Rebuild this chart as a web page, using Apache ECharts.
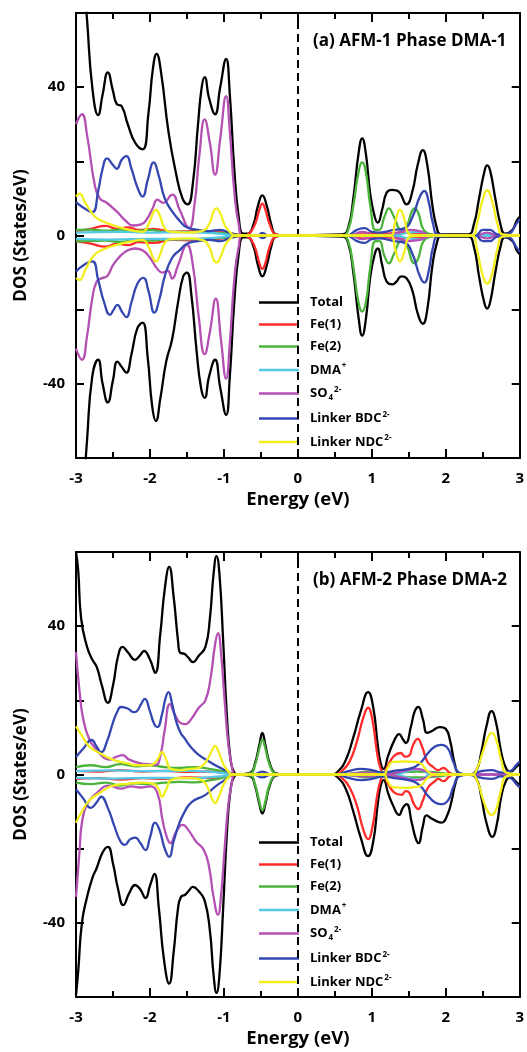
<!DOCTYPE html>
<html>
<head>
<meta charset="utf-8">
<script src="https://cdn.jsdelivr.net/npm/echarts@6/dist/echarts.min.js"></script>
<style>
  html, body { margin: 0; padding: 0; background: #fff; }
  #chart { width: 527px; height: 1052px; }
</style>
</head>
<body>
<div id="chart"></div>
<script>
// 图例名称 / 颜色
const names = ['Total', 'Fe(1)', 'Fe(2)', 'DMA+', 'SO42-', 'Linker BDC2-', 'Linker NDC2-']
const colors = ['#000000', '#ff2b2b', '#4cb43c', '#55c8e6', '#b450b4', '#3446b0', '#f2ee1e']
const titles = ['(a) AFM-1 Phase DMA-1', '(b) AFM-2 Phase DMA-2']

// ---------- (a) AFM-1, [E (eV), DOS] ----------
const totUpA = [[-3,100],[-2.92,75],[-2.85,58],[-2.78,40],[-2.7,32.5],[-2.64,38],[-2.57,44],[-2.5,39],[-2.45,35.5],[-2.38,34.8],[-2.3,30],[-2.2,25],[-2.1,23.2],[-2.02,33],[-1.96,45],[-1.91,49],[-1.85,44],[-1.75,28],[-1.65,17],[-1.56,10],[-1.49,8.4],[-1.42,14],[-1.35,30],[-1.3,40],[-1.26,42.7],[-1.2,37],[-1.12,32.7],[-1.05,40],[-0.97,47.6],[-0.92,38],[-0.86,18],[-0.8,5],[-0.74,0.5],[-0.68,0.5],[-0.6,3],[-0.54,8],[-0.48,10.8],[-0.42,8],[-0.36,3],[-0.3,0.3],[-0.2,0],[0.6,0.3],[0.68,2],[0.75,10],[0.82,22],[0.87,26.2],[0.92,22],[0.98,11],[1.04,5],[1.08,3.5],[1.14,7],[1.2,11.5],[1.27,12.3],[1.33,12.2],[1.38,11.5],[1.47,8.4],[1.55,12],[1.62,19],[1.69,23],[1.75,19],[1.82,8],[1.88,2],[1.93,0.3],[2.3,0.3],[2.38,3],[2.45,10],[2.52,17],[2.56,18.9],[2.6,17.5],[2.67,10],[2.74,3],[2.8,0.5],[2.9,1.5],[2.96,4],[3,5]]
const totDnA = [[-3,-100],[-2.92,-75],[-2.85,-55],[-2.78,-38],[-2.7,-33.5],[-2.64,-40],[-2.57,-45],[-2.5,-39],[-2.44,-34],[-2.38,-35.5],[-2.32,-37],[-2.25,-32],[-2.17,-25],[-2.1,-23.5],[-2.03,-33],[-1.97,-46],[-1.92,-50],[-1.86,-44],[-1.78,-34],[-1.7,-28],[-1.62,-18],[-1.55,-11],[-1.5,-10],[-1.44,-16],[-1.37,-31],[-1.31,-41],[-1.26,-43.8],[-1.2,-38],[-1.12,-33.5],[-1.05,-41],[-0.97,-48.4],[-0.92,-38],[-0.86,-18],[-0.8,-5],[-0.74,-0.5],[-0.68,-0.5],[-0.6,-3],[-0.54,-8],[-0.48,-11],[-0.42,-8],[-0.36,-3],[-0.3,-0.3],[-0.2,0],[0.6,-0.3],[0.68,-2],[0.75,-10],[0.82,-22],[0.87,-27],[0.92,-22.5],[0.98,-11],[1.04,-5],[1.08,-3.5],[1.14,-8],[1.2,-12.4],[1.28,-13.2],[1.33,-12.5],[1.4,-11],[1.47,-11.5],[1.55,-15],[1.62,-21],[1.69,-23.8],[1.75,-20],[1.82,-8],[1.88,-2],[1.93,-0.3],[2.3,-0.3],[2.38,-3],[2.45,-11],[2.52,-18],[2.56,-19.7],[2.6,-18],[2.67,-10],[2.74,-3],[2.8,-0.5],[2.9,-1.5],[2.96,-4],[3,-5]]
const fe1UpA = [[-3,1.2],[-2.8,1.8],[-2.6,2.6],[-2.45,1.8],[-2.3,2.2],[-2.15,1.5],[-1.95,1.8],[-1.7,1],[-1.4,1.2],[-1.1,1],[-0.85,0.4],[-0.74,0],[-0.66,0.5],[-0.58,3],[-0.52,7],[-0.48,8.6],[-0.44,7],[-0.38,3],[-0.3,0.3],[-0.2,0],[0.7,0],[0.87,0.8],[1.1,0.3],[1.4,0.8],[1.7,0.6],[1.9,0],[3,0]]
const fe1DnA = [[-3,-1.5],[-2.8,-2.2],[-2.6,-3],[-2.45,-2.2],[-2.3,-2.6],[-2.15,-1.8],[-1.95,-2],[-1.7,-1.2],[-1.4,-1.3],[-1.1,-1],[-0.85,-0.4],[-0.74,0],[-0.66,-0.5],[-0.58,-3.2],[-0.52,-7.5],[-0.48,-9],[-0.44,-7.5],[-0.38,-3],[-0.3,-0.3],[-0.2,0],[0.7,0],[0.87,-0.8],[1.1,-0.3],[1.4,-0.8],[1.7,-0.6],[1.9,0],[3,0]]
const fe2UpA = [[-3,1.5],[-2.8,1.6],[-2.6,1.3],[-2.4,1.6],[-2.2,1.2],[-2,1.5],[-1.8,1],[-1.5,1],[-1.2,0.8],[-0.9,0.5],[-0.75,0],[0.6,0],[0.68,1.5],[0.75,8],[0.82,17],[0.87,19.7],[0.92,17],[0.98,8],[1.05,1.5],[1.1,1.5],[1.17,5],[1.23,7.3],[1.3,5],[1.4,1.5],[1.48,3],[1.54,6.5],[1.58,7.3],[1.63,6],[1.7,1.5],[1.8,0.3],[1.9,0],[3,0]]
const fe2DnA = [[-3,-1.6],[-2.8,-1.5],[-2.6,-1.4],[-2.4,-1.7],[-2.2,-1.3],[-2,-1.4],[-1.8,-1.1],[-1.5,-1],[-1.2,-0.8],[-0.9,-0.5],[-0.75,0],[0.6,0],[0.68,-1.5],[0.75,-8.5],[0.82,-18],[0.87,-20.5],[0.92,-18],[0.98,-8.5],[1.05,-1.5],[1.1,-1.5],[1.17,-5.5],[1.23,-7.5],[1.3,-5],[1.4,-1.5],[1.48,-3],[1.54,-6.8],[1.58,-7.5],[1.63,-6],[1.7,-1.5],[1.8,-0.3],[1.9,0],[3,0]]
const dmaUpA = [[-3,0.8],[-2.5,1],[-2,0.8],[-1.5,0.9],[-1.1,0.6],[-0.85,0],[1.3,0],[1.5,0.8],[1.65,1],[1.8,0],[3,0]]
const dmaDnA = [[-3,-0.9],[-2.5,-1.1],[-2,-0.9],[-1.5,-1],[-1.1,-0.6],[-0.85,0],[1.3,0],[1.5,-0.8],[1.65,-1],[1.8,0],[3,0]]
const so4UpA = [[-3,30],[-2.92,32.7],[-2.85,27],[-2.75,14],[-2.68,10],[-2.59,8.9],[-2.45,6.5],[-2.32,3.8],[-2.23,2.7],[-2.12,3],[-2.04,4.5],[-1.96,7.5],[-1.9,9.7],[-1.82,8.8],[-1.7,11],[-1.6,7],[-1.47,2],[-1.4,8],[-1.33,22],[-1.26,31.3],[-1.19,25],[-1.12,16.4],[-1.05,26],[-0.97,37.6],[-0.92,28],[-0.86,12],[-0.8,3],[-0.74,0],[0.7,0],[0.87,1],[1.05,0],[1.3,0.5],[1.5,1.5],[1.65,1.2],[1.8,0],[2.4,0],[2.56,0.8],[2.7,0],[3,0]]
const so4DnA = [[-3,-30.5],[-2.92,-33.5],[-2.85,-27],[-2.78,-17],[-2.72,-12.4],[-2.65,-11.5],[-2.58,-11],[-2.5,-8],[-2.4,-5.5],[-2.3,-4],[-2.2,-3.5],[-2.1,-4],[-2,-6],[-1.9,-9],[-1.83,-10],[-1.76,-9.5],[-1.7,-11.6],[-1.62,-8],[-1.5,-2.5],[-1.42,-8],[-1.34,-22],[-1.26,-32],[-1.19,-26],[-1.11,-17],[-1.04,-28],[-0.97,-38.6],[-0.92,-29],[-0.86,-12],[-0.8,-3],[-0.74,0],[0.7,0],[0.87,-1],[1.05,0],[1.3,-0.5],[1.5,-1.5],[1.65,-1.2],[1.8,0],[2.4,0],[2.56,-0.8],[2.7,0],[3,0]]
const bdcUpA = [[-3,9],[-2.9,7.5],[-2.78,6.3],[-2.7,12],[-2.64,18],[-2.58,20.8],[-2.5,19],[-2.45,18],[-2.38,20.5],[-2.32,21.4],[-2.25,18],[-2.17,13],[-2.1,10.5],[-2.03,15],[-1.95,19.7],[-1.88,16],[-1.8,10],[-1.7,6.5],[-1.6,4],[-1.5,2.2],[-1.35,1.5],[-1.2,1.2],[-1.05,1.5],[-0.9,0.5],[-0.75,0],[-0.55,0],[-0.48,0.7],[-0.4,0],[0.65,0],[0.8,1.5],[0.9,2],[1,1],[1.1,0.8],[1.3,1.5],[1.45,2],[1.55,5],[1.65,10.5],[1.71,12],[1.77,9],[1.83,3],[1.9,0.3],[2.4,0],[2.5,1.5],[2.6,1.5],[2.7,0.3],[2.85,0.5],[2.95,3],[3,4.5]]
const bdcDnA = [[-3,-9.7],[-2.9,-8],[-2.78,-7],[-2.7,-12],[-2.62,-18],[-2.54,-21.4],[-2.49,-20],[-2.44,-18.7],[-2.38,-20.5],[-2.32,-22],[-2.25,-18],[-2.17,-13],[-2.09,-11.4],[-2.02,-15],[-1.94,-20.8],[-1.87,-17],[-1.8,-11],[-1.7,-6],[-1.6,-4],[-1.5,-2.2],[-1.35,-1.5],[-1.2,-1.2],[-1.05,-1.5],[-0.9,-0.5],[-0.75,0],[-0.55,0],[-0.48,-0.7],[-0.4,0],[0.65,0],[0.8,-1.5],[0.9,-2],[1,-1],[1.1,-0.8],[1.3,-1.5],[1.45,-2],[1.55,-5],[1.65,-11],[1.71,-12.7],[1.77,-9.5],[1.83,-3],[1.9,-0.3],[2.4,0],[2.5,-1.5],[2.6,-1.5],[2.7,-0.3],[2.85,-0.5],[2.95,-3],[3,-4.5]]
const ndcUpA = [[-3,10.5],[-2.95,11.3],[-2.88,9],[-2.8,6.5],[-2.72,4.7],[-2.6,3.5],[-2.45,2.5],[-2.3,1.6],[-2.1,1],[-2.02,3],[-1.96,6],[-1.92,7],[-1.87,5.5],[-1.8,2],[-1.72,1],[-1.5,0.8],[-1.3,1.2],[-1.2,3],[-1.14,6.5],[-1.1,7.3],[-1.05,6],[-0.98,2.5],[-0.9,0.5],[-0.85,0],[1.25,0],[1.32,4],[1.38,7],[1.44,4.5],[1.5,0.5],[1.6,0],[2.35,0],[2.42,3],[2.49,9],[2.56,12.2],[2.63,9],[2.7,3],[2.77,0.3],[3,0]]
const ndcDnA = [[-3,-11.5],[-2.95,-12],[-2.88,-9.5],[-2.8,-6.5],[-2.72,-4.7],[-2.6,-3.5],[-2.45,-2.5],[-2.3,-1.8],[-2.1,-1.2],[-2.02,-3],[-1.96,-6],[-1.92,-7],[-1.87,-5.5],[-1.8,-2],[-1.72,-1],[-1.5,-0.8],[-1.3,-1.2],[-1.2,-3],[-1.14,-6.5],[-1.1,-7.3],[-1.05,-6],[-0.98,-2.5],[-0.9,-0.5],[-0.85,0],[1.25,0],[1.32,-4],[1.38,-7],[1.44,-4.5],[1.5,-0.5],[1.6,0],[2.35,0],[2.42,-3.5],[2.49,-10],[2.56,-13],[2.63,-10],[2.7,-3.5],[2.77,-0.3],[3,0]]

// ---------- (b) AFM-2 ----------
const totUpB = [[-3,60],[-2.97,55],[-2.93,42],[-2.85,34.4],[-2.78,31],[-2.72,29],[-2.65,24],[-2.57,19.3],[-2.5,24],[-2.43,32],[-2.37,34.4],[-2.3,33],[-2.2,30.9],[-2.14,32],[-2.08,33.3],[-2,31],[-1.93,27.4],[-1.86,38],[-1.8,50],[-1.74,56],[-1.68,48],[-1.62,36],[-1.59,32.8],[-1.54,32.6],[-1.48,31.5],[-1.42,30.3],[-1.34,32],[-1.25,34.4],[-1.19,42],[-1.14,54],[-1.1,58.9],[-1.06,54],[-1.01,36],[-0.96,16],[-0.91,4],[-0.86,0.5],[-0.8,0],[-0.64,0.5],[-0.58,3],[-0.52,8],[-0.48,11.2],[-0.44,8],[-0.38,3],[-0.3,0.3],[-0.2,0],[0.45,0],[0.55,1],[0.65,4],[0.75,10],[0.85,17],[0.95,22.2],[1.02,18],[1.08,8],[1.12,3],[1.16,1.5],[1.22,5],[1.3,9],[1.37,10.9],[1.42,9.5],[1.46,8.5],[1.53,13],[1.58,17],[1.63,18.2],[1.69,15],[1.75,11.2],[1.82,11.8],[1.92,12.8],[2,12.3],[2.06,9],[2.12,3],[2.18,0.3],[2.3,0],[2.41,1],[2.48,6],[2.55,13],[2.62,17.1],[2.68,14],[2.75,6],[2.82,1.5],[2.88,0.8],[2.95,2],[3,3]]
const totDnB = [[-3,-59.4],[-2.97,-53],[-2.92,-40],[-2.85,-33],[-2.78,-28],[-2.72,-25.2],[-2.64,-21],[-2.57,-19.5],[-2.5,-24],[-2.43,-31],[-2.36,-35.2],[-2.28,-32],[-2.2,-29.8],[-2.13,-31],[-2.06,-33.3],[-2,-30],[-1.94,-26.8],[-1.88,-36],[-1.81,-50],[-1.74,-56.4],[-1.68,-48],[-1.62,-36],[-1.58,-33],[-1.53,-32.5],[-1.48,-31.5],[-1.42,-30.3],[-1.34,-31.5],[-1.26,-34],[-1.19,-42],[-1.14,-54],[-1.1,-58.9],[-1.06,-54],[-1.01,-36],[-0.96,-16],[-0.91,-4],[-0.86,-0.5],[-0.8,0],[-0.64,-0.5],[-0.58,-3],[-0.52,-8],[-0.48,-10.5],[-0.44,-8],[-0.38,-3],[-0.3,-0.3],[-0.2,0],[0.45,0],[0.55,-1],[0.65,-4],[0.75,-10],[0.85,-17],[0.95,-22],[1.02,-18],[1.08,-8],[1.12,-3],[1.16,-1.5],[1.22,-5],[1.28,-8],[1.37,-10.9],[1.42,-9],[1.47,-8],[1.54,-13],[1.59,-17],[1.63,-18.5],[1.69,-14],[1.74,-11],[1.82,-12],[1.94,-13],[2.02,-11],[2.08,-7],[2.13,-2.5],[2.18,-0.3],[2.3,0],[2.41,-1],[2.48,-6],[2.55,-13],[2.63,-16.8],[2.69,-13.5],[2.75,-6],[2.82,-1.5],[2.88,-0.8],[2.95,-2],[3,-3]]
const fe1UpB = [[-3,1],[-2.7,0.8],[-2.4,1.2],[-2.1,0.8],[-1.8,1],[-1.5,0.7],[-1.2,0.8],[-0.9,0.3],[-0.8,0],[0.5,0],[0.6,1],[0.7,3.5],[0.8,9],[0.88,15],[0.95,18],[1.01,14.5],[1.07,6],[1.12,1.5],[1.16,0.5],[1.22,2.5],[1.3,5],[1.39,5.8],[1.45,4.8],[1.5,5],[1.56,8],[1.62,9.6],[1.68,7.5],[1.75,3.5],[1.83,2],[1.9,1.2],[1.97,1.8],[2.05,0.5],[2.12,0],[3,0]]
const fe1DnB = [[-3,-1.2],[-2.7,-1],[-2.4,-1.4],[-2.1,-1],[-1.8,-1.2],[-1.5,-0.8],[-1.2,-0.9],[-0.9,-0.3],[-0.8,0],[0.5,0],[0.6,-1],[0.7,-3.5],[0.8,-8.5],[0.88,-14.5],[0.95,-17.4],[1.01,-14],[1.07,-6],[1.12,-1.5],[1.16,-0.5],[1.22,-2.5],[1.3,-4.8],[1.4,-5.5],[1.46,-4.5],[1.51,-5],[1.57,-8],[1.63,-9.3],[1.69,-7],[1.76,-3.5],[1.84,-2],[1.9,-1.2],[1.97,-1.8],[2.05,-0.5],[2.12,0],[3,0]]
const fe2UpB = [[-3,2],[-2.8,2.5],[-2.6,2],[-2.4,2.8],[-2.2,2.2],[-2,2.5],[-1.8,2],[-1.6,1.8],[-1.4,2],[-1.2,1.5],[-1,0.8],[-0.85,0],[-0.64,0.3],[-0.58,2.5],[-0.52,7],[-0.48,9.3],[-0.44,7],[-0.38,2.5],[-0.3,0.2],[-0.2,0],[0.6,0],[0.95,0.8],[1.3,0.5],[1.6,0.8],[1.9,0.5],[2.1,0],[3,0]]
const fe2DnB = [[-3,-2.2],[-2.8,-2.6],[-2.6,-2.2],[-2.4,-3],[-2.2,-2.4],[-2,-2.6],[-1.8,-2.2],[-1.6,-2],[-1.4,-2.1],[-1.2,-1.6],[-1,-0.8],[-0.85,0],[-0.64,-0.3],[-0.58,-2.6],[-0.52,-7.3],[-0.48,-9.6],[-0.44,-7.3],[-0.38,-2.6],[-0.3,-0.2],[-0.2,0],[0.6,0],[0.95,-0.8],[1.3,-0.5],[1.6,-0.8],[1.9,-0.5],[2.1,0],[3,0]]
const dmaUpB = [[-3,0.9],[-2.5,1.1],[-2,0.9],[-1.5,1],[-1.1,0.6],[-0.85,0],[1.3,0],[1.5,1],[1.65,1.4],[1.8,0],[3,0]]
const dmaDnB = [[-3,-0.9],[-2.5,-1.1],[-2,-0.9],[-1.5,-1],[-1.1,-0.6],[-0.85,0],[1.3,0],[1.5,-1],[1.65,-1.4],[1.8,0],[3,0]]
const so4UpB = [[-3,33],[-2.95,22],[-2.9,14.7],[-2.82,9.5],[-2.72,6.6],[-2.62,4.5],[-2.55,4],[-2.45,4.8],[-2.37,5.2],[-2.28,4],[-2.13,3],[-2,2.7],[-1.92,2.6],[-1.86,5],[-1.8,12],[-1.73,19],[-1.66,16],[-1.58,13.8],[-1.52,13.6],[-1.44,15],[-1.34,18],[-1.25,20],[-1.18,26],[-1.12,35],[-1.08,38.1],[-1.04,33],[-0.99,20],[-0.94,8],[-0.89,2],[-0.85,0],[0.5,0],[0.95,0.5],[1.2,0],[1.4,0.8],[1.6,1.5],[1.8,0.5],[2,0],[3,0]]
const so4DnB = [[-3,-33],[-2.95,-20],[-2.92,-13],[-2.85,-8],[-2.72,-5],[-2.55,-3],[-2.4,-3.8],[-2.25,-3.2],[-2.13,-3.5],[-2,-3.2],[-1.9,-5],[-1.83,-12.3],[-1.77,-17],[-1.72,-18.5],[-1.66,-16],[-1.6,-14],[-1.56,-13.6],[-1.48,-15],[-1.38,-18],[-1.27,-20.4],[-1.2,-25],[-1.14,-33],[-1.08,-37.8],[-1.04,-33],[-0.99,-20],[-0.94,-8],[-0.89,-2],[-0.85,0],[0.5,0],[0.95,-0.5],[1.2,0],[1.4,-0.8],[1.6,-1.5],[1.8,-0.5],[2,0],[3,0]]
const bdcUpB = [[-3,4.7],[-2.9,7],[-2.79,9.3],[-2.72,7.5],[-2.66,6],[-2.58,9],[-2.5,14],[-2.44,17],[-2.39,18.2],[-2.3,17.8],[-2.22,16.8],[-2.18,17],[-2.12,19],[-2.07,20.4],[-2,17],[-1.94,13.5],[-1.9,12.8],[-1.84,16],[-1.79,20.5],[-1.75,22.2],[-1.7,19],[-1.64,14],[-1.58,11],[-1.54,10],[-1.45,7.5],[-1.34,5.3],[-1.2,3.5],[-1.07,2],[-0.95,0.8],[-0.85,0],[-0.6,0],[-0.48,0.8],[-0.36,0],[0.5,0],[0.7,1],[0.85,1.5],[1,1.2],[1.15,0.5],[1.3,1],[1.5,1.5],[1.65,3],[1.75,5.5],[1.85,7.5],[1.94,8],[2.03,7],[2.1,3.5],[2.18,0.5],[2.3,0],[2.5,1],[2.62,1.2],[2.75,0.5],[2.88,1],[2.95,2.5],[3,3.5]]
const bdcDnB = [[-3,-4],[-2.9,-6.5],[-2.8,-9],[-2.72,-7.5],[-2.66,-6],[-2.57,-9],[-2.48,-14],[-2.4,-18],[-2.34,-19],[-2.27,-17.5],[-2.2,-17],[-2.13,-18.5],[-2.06,-20.4],[-2,-17],[-1.93,-13],[-1.87,-15],[-1.8,-20],[-1.74,-22.2],[-1.68,-18],[-1.6,-13],[-1.54,-10.4],[-1.44,-7.5],[-1.25,-5.5],[-1.1,-3],[-0.95,-1],[-0.88,0],[-0.6,0],[-0.48,-0.8],[-0.36,0],[0.5,0],[0.7,-1],[0.85,-1.5],[1,-1.2],[1.15,-0.5],[1.3,-1],[1.5,-1.5],[1.65,-3],[1.75,-5.5],[1.85,-7.5],[1.93,-8],[2.03,-7],[2.1,-3.5],[2.18,-0.5],[2.3,0],[2.5,-1],[2.62,-1.2],[2.75,-0.5],[2.88,-1],[2.95,-2.5],[3,-3.5]]
const ndcUpB = [[-3,13],[-2.92,10.5],[-2.82,7.5],[-2.68,5.8],[-2.5,4],[-2.3,3],[-2.2,2.5],[-2,2.5],[-1.9,4],[-1.84,6],[-1.78,4],[-1.72,1.5],[-1.6,1.2],[-1.45,1.5],[-1.34,1.8],[-1.24,3.5],[-1.16,6.5],[-1.12,7.7],[-1.07,6],[-1,2.5],[-0.93,0.5],[-0.88,0],[1.15,0],[1.22,2],[1.28,3.4],[1.45,3.5],[1.58,3.4],[1.66,3],[1.75,1],[1.85,0],[2.35,0],[2.43,2],[2.5,6],[2.57,10],[2.62,11.2],[2.68,9.5],[2.75,4],[2.82,0.5],[3,0]]
const ndcDnB = [[-3,-13],[-2.92,-10],[-2.82,-7],[-2.68,-5],[-2.5,-3],[-2.3,-2.5],[-2.1,-2.2],[-1.95,-2.5],[-1.88,-4],[-1.84,-6],[-1.78,-4],[-1.72,-1.5],[-1.6,-1],[-1.45,-1],[-1.3,-1.5],[-1.22,-3.5],[-1.16,-6.5],[-1.12,-7.7],[-1.07,-6],[-1,-2.5],[-0.93,-0.5],[-0.88,0],[1.15,0],[1.22,-2],[1.28,-3.4],[1.45,-3.6],[1.58,-3.4],[1.66,-3],[1.75,-1],[1.85,0],[2.35,0],[2.43,-2],[2.5,-6.5],[2.57,-10],[2.62,-10.9],[2.68,-9.5],[2.75,-4],[2.82,-0.5],[3,0]]

const panelA = [[totUpA, totDnA], [fe1UpA, fe1DnA], [fe2UpA, fe2DnA], [dmaUpA, dmaDnA], [so4UpA, so4DnA], [bdcUpA, bdcDnA], [ndcUpA, ndcDnA]]
const panelB = [[totUpB, totDnB], [fe1UpB, fe1DnB], [fe2UpB, fe2DnB], [dmaUpB, dmaDnB], [so4UpB, so4DnB], [bdcUpB, bdcDnB], [ndcUpB, ndcDnB]]

const font = 'Open Sans'
const gridTops = [13, 552]
const legendTops = [291, 831]

let myChart = echarts.init(document.getElementById('chart'))

let grids = [], xAxes = [], yAxes = [], series = [], legends = [], titleList = []

gridTops.forEach((top, g) => {
	grids.push({ left: 76, top: top, width: 448, height: 445 })
	// 下 / 上 x 轴
	;['bottom', 'top'].forEach((pos, k) => {
		xAxes.push({
			gridIndex: g, type: 'value', position: pos, min: -3, max: 3, interval: 1,
			name: k === 0 ? 'Energy (eV)' : '', nameLocation: 'middle', nameGap: 32,
			nameTextStyle: { fontFamily: font, fontWeight: 'bold', fontSize: 18.5, color: '#000' },
			axisLine: { onZero: false, lineStyle: { color: '#000', width: 2 } },
			axisTick: { inside: true, length: 9, lineStyle: { width: 2, color: '#000' } },
			minorTick: { show: true, splitNumber: 2, length: 6, lineStyle: { width: 2, color: '#000' } },
			axisLabel: { show: k === 0, margin: 13, fontFamily: font, fontWeight: 'bold', fontSize: 15, color: '#000' },
			splitLine: { show: false }
		})
	})
	;['left', 'right'].forEach((pos, k) => {
		yAxes.push({
			gridIndex: g, type: 'value', position: pos, min: -60, max: 60, interval: 20,
			name: k === 0 ? 'DOS (States/eV)' : '', nameLocation: 'middle', nameGap: 46, nameRotate: 90,
			nameTextStyle: { fontFamily: font, fontWeight: 'bold', fontSize: 17, color: '#000' },
			axisLine: { onZero: false, lineStyle: { color: '#000', width: 2 } },
			axisTick: { inside: true, length: 8, lineStyle: { width: 2, color: '#000' } },
			axisLabel: {
				show: k === 0, margin: 11, fontFamily: font, fontWeight: 'bold', fontSize: 15, color: '#000',
				formatter: v => (v % 40 === 0 && Math.abs(v) < 60) ? String(v) : ''
			},
			splitLine: { show: false }
		})
	})

	const panel = g === 0 ? panelA : panelB
	panel.forEach((pair, i) => {
		pair.forEach((arr, s) => {
			let ser = {
				name: names[i], type: 'line', xAxisIndex: g * 2, yAxisIndex: g * 2,
				data: arr, smooth: 0.5, symbol: 'none', showSymbol: false,
				lineStyle: { color: colors[i], width: 2.3 }, itemStyle: { color: colors[i] },
				z: 2 + i, silent: true, clip: true
			}
			if (i === 0 && s === 0) {
				ser.markLine = {
					silent: true, symbol: 'none', label: { show: false }, animation: false,
					lineStyle: { color: '#000', width: 2, type: [8, 5] },
					data: [{ xAxis: 0 }]
				}
			}
			series.push(ser)
		})
	})

	legends.push({
		orient: 'vertical', left: 254, top: legendTops[g], itemWidth: 40, itemHeight: 14, itemGap: 9,
		icon: 'path://M0,6 L40,6 L40,8.4 L0,8.4 Z',
		data: names, selectedMode: false,
		formatter: function (n) {
			if (n === 'DMA+') return 'DMA{sup|+}'
			if (n === 'SO42-') return 'SO{sub|4}{sup|2-}'
			if (n === 'Linker BDC2-') return 'Linker BDC{sup|2-}'
			if (n === 'Linker NDC2-') return 'Linker NDC{sup|2-}'
			return n
		},
		textStyle: {
			fontFamily: font, fontWeight: 'bold', fontSize: 13, color: '#000', padding: [0, 0, 0, 6],
			rich: {
				sup: { fontFamily: font, fontWeight: 'bold', fontSize: 8, color: '#000', verticalAlign: 'top', padding: [0, 0, 8, 1] },
				sub: { fontFamily: font, fontWeight: 'bold', fontSize: 8, color: '#000', verticalAlign: 'bottom', padding: [8, 0, 0, 1] }
			}
		}
	})

	titleList.push({
		text: titles[g], left: 313, top: top + 20, padding: 0,
		textStyle: { fontFamily: font, fontWeight: 'bold', fontSize: 17, color: '#000' }
	})
})

myChart.setOption({
	animation: false,
	title: titleList,
	grid: grids,
	xAxis: xAxes,
	yAxis: yAxes,
	legend: legends,
	series: series
})
</script>
</body>
</html>
